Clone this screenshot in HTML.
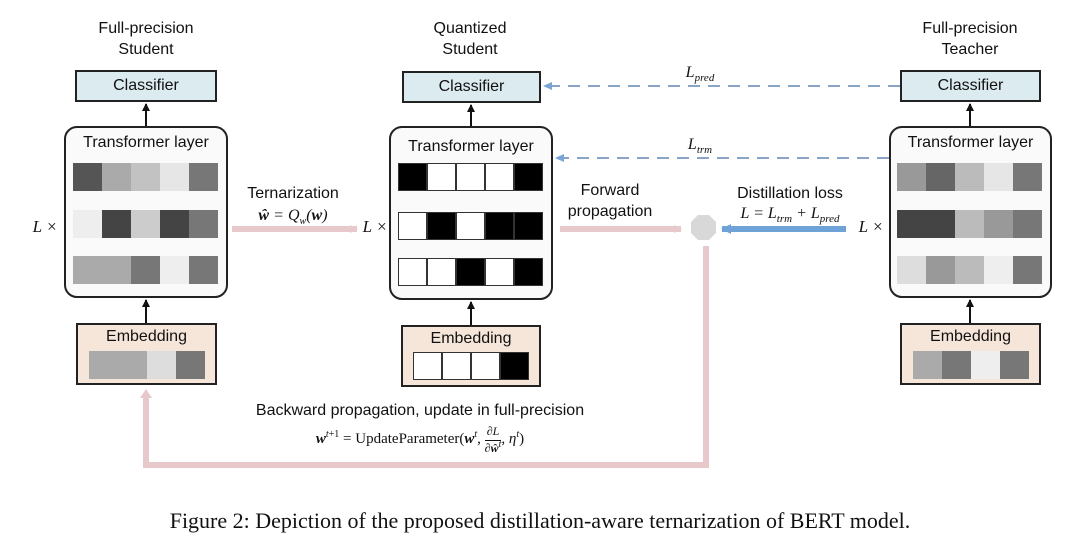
<!DOCTYPE html>
<html><head><meta charset="utf-8"><style>
body{margin:0;width:1080px;height:546px;background:#fff;position:relative;overflow:hidden;font-family:"Liberation Sans",sans-serif;color:#111}
.a{position:absolute}
.t{position:absolute;font-size:16px;text-align:center;line-height:21px}
.cls{position:absolute;background:#dcebf0;border:2px solid #222;box-sizing:border-box;font-size:16px;text-align:center;line-height:28px}
.tr{position:absolute;background:#fafafa;border:2px solid #222;border-radius:13px;box-sizing:border-box}
.tr .h{position:absolute;left:0;right:0;top:6px;text-align:center;font-size:16px}
.emb{position:absolute;background:#f6e6da;border:2px solid #222;box-sizing:border-box}
.emb .h{position:absolute;left:0;right:0;top:3px;text-align:center;font-size:16px}
.row{position:absolute;display:flex}
.row div{width:29px;height:28px;box-sizing:border-box}
.q div{border:1px solid #333}
.m{font-family:"Liberation Serif",serif;font-style:italic}
</style></head><body>
<svg class="a" style="left:0;top:0" width="1080" height="546">
<defs>
<marker id="ab" markerUnits="userSpaceOnUse" markerWidth="8" markerHeight="10" refX="7" refY="4" orient="auto"><path d="M0,0 L8,4 L0,8z" fill="#111"/></marker>
<marker id="ap" markerUnits="userSpaceOnUse" markerWidth="8" markerHeight="10" refX="7" refY="5" orient="auto"><path d="M0,1 L8,5 L0,9z" fill="#e7c9cc"/></marker>
<marker id="abl" markerUnits="userSpaceOnUse" markerWidth="10" markerHeight="12" refX="9" refY="6" orient="auto"><path d="M0,1 L10,6 L0,11z" fill="#6fa2d6"/></marker>
<marker id="ad" markerUnits="userSpaceOnUse" markerWidth="10" markerHeight="10" refX="8" refY="5" orient="auto"><path d="M0,1 L9,5 L0,9z" fill="#7aa6d6"/></marker>
</defs>
<g stroke="#111" stroke-width="2">
<line x1="146" y1="126" x2="146" y2="104" marker-end="url(#ab)"/>
<line x1="146" y1="323" x2="146" y2="300" marker-end="url(#ab)"/>
<line x1="471" y1="126" x2="471" y2="105" marker-end="url(#ab)"/>
<line x1="471" y1="325" x2="471" y2="302" marker-end="url(#ab)"/>
<line x1="970" y1="126" x2="970" y2="104" marker-end="url(#ab)"/>
<line x1="970" y1="323" x2="970" y2="300" marker-end="url(#ab)"/>
</g>
<g stroke-dasharray="12,8" stroke-width="2" fill="none">
<line x1="900" y1="86" x2="544" y2="86" stroke="#8aa4c8" marker-end="url(#ad)"/>
<line x1="889" y1="158" x2="556" y2="158" stroke="#8aa4c8" marker-end="url(#ad)"/>
</g>
<line x1="232" y1="229" x2="357" y2="229" stroke="#e7c9cc" stroke-width="6" marker-end="url(#ap)"/>
<line x1="560" y1="229" x2="681" y2="229" stroke="#e7c9cc" stroke-width="6" marker-end="url(#ap)"/>
<line x1="846" y1="229" x2="722" y2="229" stroke="#6fa2d6" stroke-width="6" marker-end="url(#abl)"/>
<polygon points="698,215 709,215 716,222 716,233 709,240 698,240 691,233 691,222" fill="#d8d8d8"/>
<polyline points="706,246 706,465 146,465 146,396" fill="none" stroke="#e7c9cc" stroke-width="6"/>
<path d="M140,398 L146,389 L152,398z" fill="#e7c9cc"/>
</svg>

<div class="t" style="left:76px;top:18px;width:140px">Full-precision<br>Student</div>
<div class="t" style="left:400px;top:18px;width:140px">Quantized<br>Student</div>
<div class="t" style="left:900px;top:18px;width:140px">Full-precision<br>Teacher</div>

<div class="cls" style="left:75px;top:70px;width:142px;height:32px">Classifier</div>
<div class="cls" style="left:402px;top:71px;width:139px;height:32px">Classifier</div>
<div class="cls" style="left:900px;top:70px;width:141px;height:32px">Classifier</div>

<div class="tr" style="left:64px;top:126px;width:164px;height:172px"><div class="h">Transformer layer</div></div>
<div class="row" style="left:73px;top:163px"><div style="background:#555"></div><div style="background:#aaa"></div><div style="background:#c2c2c2"></div><div style="background:#e6e6e6"></div><div style="background:#777"></div></div>
<div class="row" style="left:73px;top:210px"><div style="background:#eee"></div><div style="background:#444"></div><div style="background:#ccc"></div><div style="background:#444"></div><div style="background:#777"></div></div>
<div class="row" style="left:73px;top:256px"><div style="background:#aaa"></div><div style="background:#aaa"></div><div style="background:#777"></div><div style="background:#eee"></div><div style="background:#777"></div></div>

<div class="tr" style="left:389px;top:126px;width:164px;height:174px"><div class="h" style="top:10px">Transformer layer</div></div>
<div class="row q" style="left:398px;top:163px"><div style="background:#000"></div><div style="background:#fff"></div><div style="background:#fff"></div><div style="background:#fff"></div><div style="background:#000"></div></div>
<div class="row q" style="left:398px;top:212px"><div style="background:#fff"></div><div style="background:#000"></div><div style="background:#fff"></div><div style="background:#000"></div><div style="background:#000"></div></div>
<div class="row q" style="left:398px;top:258px"><div style="background:#fff"></div><div style="background:#fff"></div><div style="background:#000"></div><div style="background:#fff"></div><div style="background:#000"></div></div>

<div class="tr" style="left:889px;top:126px;width:163px;height:172px"><div class="h">Transformer layer</div></div>
<div class="row" style="left:897px;top:163px"><div style="background:#999"></div><div style="background:#666"></div><div style="background:#bbb"></div><div style="background:#e6e6e6"></div><div style="background:#777"></div></div>
<div class="row" style="left:897px;top:210px"><div style="background:#444"></div><div style="background:#444"></div><div style="background:#bbb"></div><div style="background:#999"></div><div style="background:#777"></div></div>
<div class="row" style="left:897px;top:256px"><div style="background:#ddd"></div><div style="background:#999"></div><div style="background:#bbb"></div><div style="background:#eee"></div><div style="background:#777"></div></div>

<div class="emb" style="left:76px;top:323px;width:141px;height:62px"><div class="h">Embedding</div></div>
<div class="row" style="left:89px;top:351px"><div style="background:#aaa"></div><div style="background:#aaa"></div><div style="background:#ddd"></div><div style="background:#777"></div></div>
<div class="emb" style="left:401px;top:325px;width:140px;height:62px"><div class="h">Embedding</div></div>
<div class="row q" style="left:413px;top:352px"><div style="background:#fff"></div><div style="background:#fff"></div><div style="background:#fff"></div><div style="background:#000"></div></div>
<div class="emb" style="left:900px;top:323px;width:141px;height:62px"><div class="h">Embedding</div></div>
<div class="row" style="left:913px;top:351px"><div style="background:#aaa"></div><div style="background:#777"></div><div style="background:#eee"></div><div style="background:#777"></div></div>

<div class="t m" style="left:28px;top:216px;width:34px;font-size:17px">L ×</div>
<div class="t m" style="left:358px;top:216px;width:34px;font-size:17px">L ×</div>
<div class="t m" style="left:854px;top:216px;width:34px;font-size:17px">L ×</div>

<div class="t" style="left:233px;top:183px;width:120px">Ternarization</div>
<div class="t m" style="left:233px;top:205px;width:120px;font-size:16px"><b>ŵ</b> = <i>Q<sub style="font-size:10px">w</sub></i>(<b>w</b>)</div>
<div class="t" style="left:550px;top:180px;width:120px">Forward<br>propagation</div>
<div class="t" style="left:720px;top:183px;width:140px">Distillation loss</div>
<div class="t m" style="left:715px;top:203px;width:150px;font-size:16px">L = L<sub style="font-size:11px">trm</sub> + L<sub style="font-size:11px">pred</sub></div>
<div class="t m" style="left:670px;top:62px;width:60px;font-size:16px">L<sub style="font-size:11px">pred</sub></div>
<div class="t m" style="left:670px;top:134px;width:60px;font-size:16px">L<sub style="font-size:11px">trm</sub></div>

<div class="t" style="left:200px;top:400px;width:440px">Backward propagation, update in full-precision</div>
<div class="t" style="left:200px;top:424px;width:440px;font-family:'Liberation Serif',serif;font-size:15px"><b><i>w</i></b><sup style="font-size:10px"><i>t</i>+1</sup> = UpdateParameter(<b><i>w</i></b><sup style="font-size:10px"><i>t</i></sup>, <span style="display:inline-block;vertical-align:middle;text-align:center;font-size:12px;line-height:13px"><i>∂L</i><br><span style="border-top:1px solid #111"><i>∂<b>ŵ</b><sup>t</sup></i></span></span>, <i>η<sup style="font-size:10px">t</sup></i>)</div>

<div class="t" style="left:0;top:507px;width:1080px;font-family:'Liberation Serif',serif;font-size:22px;line-height:28px">Figure 2: Depiction of the proposed distillation-aware ternarization of BERT model.</div>
</body></html>
